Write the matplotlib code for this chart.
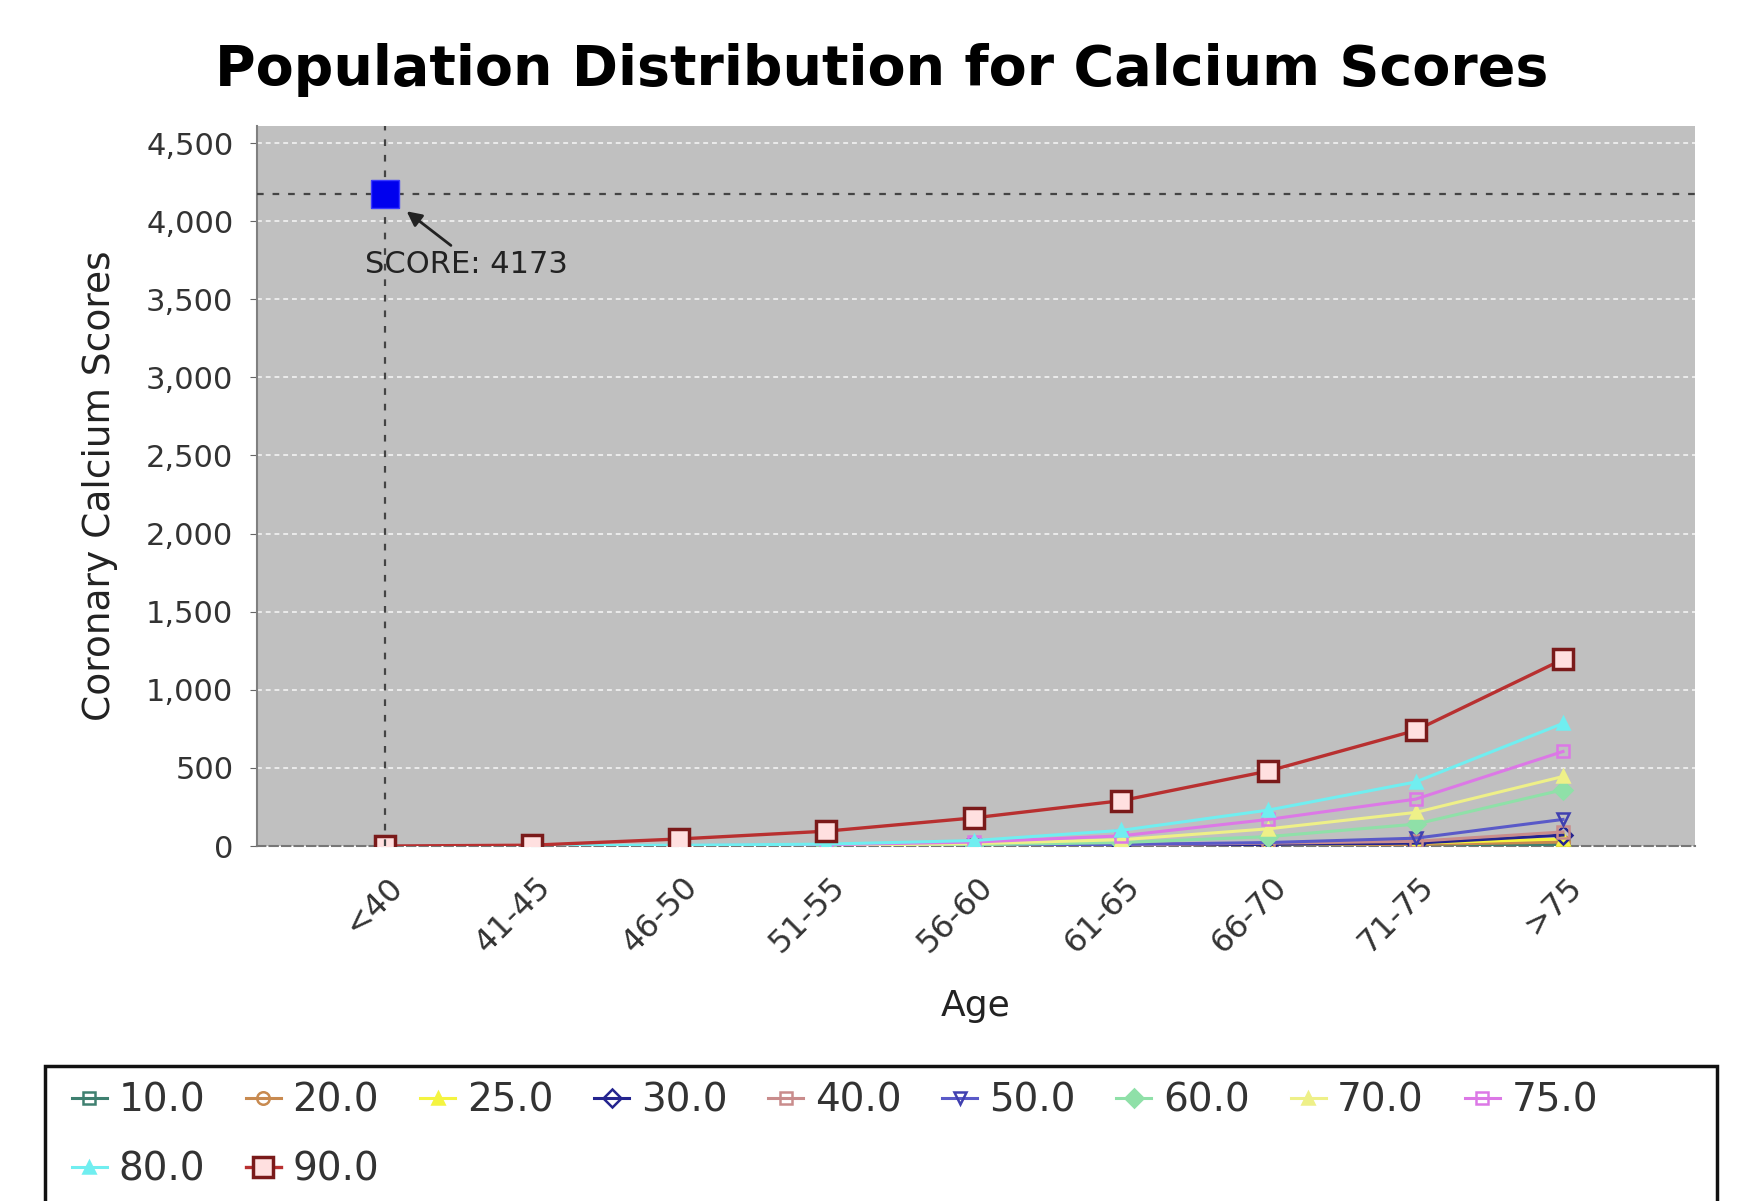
import matplotlib
matplotlib.use("Agg")
import matplotlib.pyplot as plt
from matplotlib.patches import Rectangle
from matplotlib.ticker import FuncFormatter
from matplotlib.transforms import ScaledTranslation

# ---------------- data ----------------
age_groups = ["<40", "41-45", "46-50", "51-55", "56-60", "61-65", "66-70", "71-75", ">75"]
percentiles = ["10.0", "20.0", "25.0", "30.0", "40.0", "50.0", "60.0", "70.0", "75.0", "80.0", "90.0"]

p10 = [0, 0, 0, 0, 0, 0, 2, 5, 10]
p20 = [0, 0, 0, 0, 0, 1, 5, 10, 25]
p25 = [0, 0, 0, 0, 1, 3, 8, 18, 45]
p30 = [0, 0, 0, 0, 1, 4, 10, 18, 70]
p40 = [0, 0, 0, 1, 3, 7, 18, 30, 90]
p50 = [0, 0, 0, 1, 4, 10, 22, 50, 170]
p60 = [0, 0, 1, 3, 8, 22, 60, 140, 360]
p70 = [0, 0, 2, 5, 15, 40, 110, 215, 445]
p75 = [0, 0, 3, 8, 25, 65, 170, 300, 605]
p80 = [0, 1, 5, 12, 35, 100, 230, 410, 785]
p90 = [0, 5, 45, 95, 180, 290, 480, 740, 1195]
series = [p10, p20, p25, p30, p40, p50, p60, p70, p75, p80, p90]

patient_age = "<40"
patient_score = 4173

y_ticks = [0, 500, 1000, 1500, 2000, 2500, 3000, 3500, 4000, 4500]

# ---------------- style ----------------
colors = ["#3f8070", "#c88a50", "#f4f440", "#24248f", "#c98c8c", "#5a5ac8",
          "#8fe0a8", "#eef088", "#dc78e6", "#70eef0", "#b83030"]
markers = ["s", "o", "^", "D", "s", "v", "D", "^", "s", "^", "s"]
faces = ["none", "none", "#f4f440", "none", "none", "none", "#8fe0a8", "#eef088", "none", "#70eef0", "#ffe0e0"]
edges = ["#3f8070", "#c88a50", "#f4f440", "#24248f", "#c98c8c", "#4040b0",
         "#8fe0a8", "#eef088", "#dc78e6", "#70eef0", "#7a1a1a"]

fig = plt.figure(figsize=(17.63, 12.01), dpi=100)
ax = fig.add_axes([257/1763, 1-846/1201, (1695-257)/1763, (846-126)/1201])
ax.set_facecolor("#c0c0c0")

x = list(range(len(age_groups)))
handles = []
for i, (vals, lab) in enumerate(zip(series, percentiles)):
    is90 = lab == "90.0"
    h, = ax.plot(x, vals, color=colors[i], lw=2.4 if is90 else 2.2,
                 marker=markers[i], markersize=14 if is90 else 9,
                 markerfacecolor=faces[i], markeredgecolor=edges[i],
                 markeredgewidth=2.5 if is90 else 1.8, label=lab, zorder=3 + i * 0.01)
    handles.append(h)

ax.set_xticks(x)
ax.set_xticklabels(age_groups, rotation=45, ha="right", va="center",
                   rotation_mode="anchor", fontsize=23, color="#333333")
ax.tick_params(axis="x", length=0, pad=0)
offset = ScaledTranslation(0.14, -0.36, fig.dpi_scale_trans)
for lbl in ax.get_xticklabels():
    lbl.set_transform(lbl.get_transform() + offset)

ax.set_xlim(-0.866, 8.896)
ax.set_ylim(0, 4609)
ax.set_yticks(y_ticks)
ax.yaxis.set_major_formatter(FuncFormatter(lambda v, p: f"{int(v):,}"))
ax.tick_params(axis="y", labelsize=22, labelcolor="#333333", length=5,
               color="#666666", pad=12)

for yt in y_ticks[1:]:
    ax.axhline(yt, color="#ececec", lw=1.4, ls=(0, (2.5, 2)), zorder=1)

for s in ["top", "right"]:
    ax.spines[s].set_visible(False)
ax.spines["left"].set_color("#808080")
ax.spines["left"].set_linewidth(1.5)
ax.spines["bottom"].set_color("#777777")
ax.spines["bottom"].set_linestyle((0, (4, 2)))
ax.spines["bottom"].set_linewidth(1.5)

# patient crosshair
px = age_groups.index(patient_age)
ax.axvline(px, color="#444444", lw=1.6, ls=(0, (3, 4)), zorder=4)
ax.axhline(patient_score, color="#444444", lw=1.6, ls=(0, (3, 4)), zorder=4)
ax.plot([px], [patient_score], marker="s", markersize=20, color="#0000ee",
        markeredgecolor="#3a3aff", zorder=6)
ax.annotate(f"SCORE: {patient_score}", xy=(px + 0.15, patient_score - 110),
            xytext=(px - 0.13, patient_score - 450), fontsize=22, color="#222222",
            ha="left", va="center",
            arrowprops=dict(arrowstyle="-|>", color="#222222", lw=2,
                            shrinkA=2, shrinkB=0, mutation_scale=22,
                            relpos=(0.45, 1.0)),
            zorder=7)

ax.set_xlabel("Age", fontsize=26, color="#222222", labelpad=22)
ax.set_ylabel("Coronary Calcium Scores", fontsize=27, color="#222222", labelpad=20)

fig.suptitle("Population Distribution for Calcium Scores", fontsize=40,
             fontweight="bold", x=0.5, y=1-70/1201, va="center")

# legend (row-major order: 9 entries on first row, 2 on second)
fig.patches.append(Rectangle((45/1763, -0.05), (1717-45)/1763, 0.05 + 1-1066/1201,
                             transform=fig.transFigure, facecolor="white",
                             edgecolor="#111111", lw=2.5, zorder=0))
order = [0, 9, 1, 10, 2, 3, 4, 5, 6, 7, 8]
leg = fig.legend(handles=[handles[k] for k in order],
                 labels=[percentiles[k] for k in order], loc="upper left",
                 bbox_to_anchor=(56/1763, 1-1066/1201), ncol=9, frameon=False,
                 fontsize=28, handlelength=0.9, handletextpad=0.3,
                 columnspacing=1.05, labelspacing=0.8, borderaxespad=0,
                 labelcolor="#333333")

fig.savefig("out.png", dpi=100, facecolor="white")
